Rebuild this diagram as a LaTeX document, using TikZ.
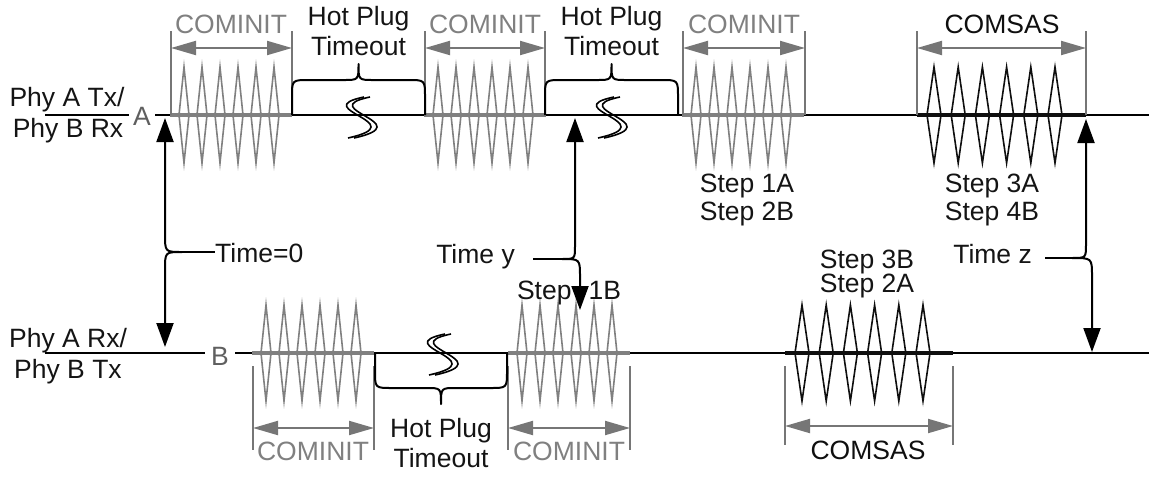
\documentclass[tikz,border=0pt]{standalone}
\usepackage{fontspec}
\setmainfont{Liberation Sans}
\usetikzlibrary{arrows.meta}
\definecolor{sigc}{RGB}{128,128,128}
\definecolor{dimc}{RGB}{118,118,118}
\definecolor{lblc}{RGB}{95,95,95}
\definecolor{txtc}{RGB}{20,20,20}
\definecolor{comsasc}{RGB}{15,15,15}
% burst: start x, line y, colour, first spike offset, pitch, half width, length
\newcommand{\mkburst}[7]{%
  \draw[line width=4pt,#3] (#1,#2) -- ++(#7,0);
  \foreach \k in {0,...,5}{%
    \draw[line width=1.6pt,#3,line join=miter,miter limit=20]
      ({#1+#4+#5*\k},{#2-48}) -- ++(#6,48) -- ++(-#6,48) -- ++(-#6,-48) -- cycle;
  }}
% dimension: x1, x2, y from, y to, y arrow
\newcommand{\mkdim}[5]{%
  \draw[dimline] (#1,#3) -- (#1,#4);
  \draw[dimline] (#2,#3) -- (#2,#4);
  \draw[dimarrow] (#1,#5) -- (#2,#5);}
% brace: x1, x2, line y, sign (1 = above, -1 = below)
\newcommand{\mkbrace}[4]{%
  \pgfmathsetmacro{\xm}{(#1+#2)/2}
  \draw[bracestyle] (#1,#3) -- (#1,{#3-#4*18}) .. controls (#1,{#3-#4*35}) .. ({#1+17},{#3-#4*35})
    -- ({\xm-15},{#3-#4*35}) .. controls (\xm,{#3-#4*35}) .. (\xm,{#3-#4*51})
    .. controls (\xm,{#3-#4*35}) .. ({\xm+15},{#3-#4*35})
    -- ({#2-17},{#3-#4*35}) .. controls (#2,{#3-#4*35}) .. (#2,{#3-#4*18}) -- (#2,#3);}
% break mark: centre x, centre y
\newcommand{\mkbreak}[2]{%
  \foreach \d in {0,6}{%
    \draw[line width=1.6pt,black] ({#1+3+\d},{#2-20}) .. controls ({#1-55+\d},{#2-8}) and ({#1+55+\d},{#2+6}) .. ({#1-13+\d},{#2+21});
  }}
\begin{document}
\begin{tikzpicture}[x=1pt,y=-1pt,
  lab/.style={font=\fontsize{26.5}{30}\selectfont, inner sep=0pt, anchor=base, text=txtc},
  glab/.style={lab, text=sigc},
  wire/.style={line width=2pt, black},
  bracestyle/.style={line width=2pt, black, line join=round},
  tarrow/.style={line width=2pt, black, {Triangle[length=24pt,width=17pt]}-{Triangle[length=24pt,width=17pt]}},
  tline/.style={line width=2pt, black},
  dimline/.style={line width=1.6pt, dimc},
  dimarrow/.style={line width=2pt, dimc, {Triangle[length=25pt,width=14pt]}-{Triangle[length=25pt,width=14pt]}},
  ]
\useasboundingbox (0,0) rectangle (1149,480);

% signal lines
\draw[wire] (45,115) -- (1149,115);
\draw[wire] (45,353) -- (1149,353);
\node[lab, text=lblc, fill=white, inner xsep=4pt] (A) at (142,125) {A};
\node[lab, text=lblc, fill=white, inner xsep=6pt] (B) at (220,365) {B};

\node[lab] (pat) at (67,106) {Phy A Tx/};
\node[lab] (pbr) at (68,137) {Phy B Rx};
\node[lab] (par) at (68,347) {Phy A Rx/};
\node[lab] (pbt) at (68,378) {Phy B Tx};

% top line bursts
\mkburst{170}{115}{sigc}{14}{18}{5}{122}
\mkburst{424}{115}{sigc}{14}{18}{5}{122}
\mkburst{682}{115}{sigc}{14}{18}{5}{122}
\mkburst{917}{115}{comsasc}{17}{24.2}{7}{169}
% bottom line bursts
\mkburst{252}{353}{sigc}{14}{18}{5}{122}
\mkburst{508}{353}{sigc}{14}{18}{5}{122}
\mkburst{785}{353}{comsasc}{17}{24.2}{7}{168}

% dimensions
\mkdim{171}{292}{31}{115}{48}
\mkdim{425}{545}{31}{115}{48}
\mkdim{683}{805}{31}{115}{48}
\mkdim{917}{1086}{31}{115}{48}
\mkdim{253}{374}{366}{450}{428}
\mkdim{508}{630}{366}{450}{428}
\mkdim{785}{953}{366}{445}{426}

\node[glab] (c1) at (231,33) {COMINIT};
\node[glab] (c2) at (485,33) {COMINIT};
\node[glab] (c3) at (744,33) {COMINIT};
\node[lab, text=comsasc] (s1) at (1002,33) {COMSAS};
\node[glab] (c4) at (313,460) {COMINIT};
\node[glab] (c5) at (569,460) {COMINIT};
\node[lab, text=comsasc] (s2) at (868,459) {COMSAS};

% hot plug braces
\mkbrace{292}{425}{115}{1}
\mkbrace{545}{678}{115}{1}
\mkbrace{375}{507}{353}{-1}
\mkbreak{361}{117}
\mkbreak{611}{117}
\mkbreak{442}{354}

\node[lab] (h1a) at (358.5,25) {Hot Plug};
\node[lab] (h1b) at (358.5,55) {Timeout};
\node[lab] (h2a) at (611.5,25) {Hot Plug};
\node[lab] (h2b) at (611.5,55) {Timeout};
\node[lab] (h3a) at (441,437) {Hot Plug};
\node[lab] (h3b) at (441,467) {Timeout};

% step labels
\node[lab] (st1a) at (747,192) {Step 1A};
\node[lab] (st2b) at (747,220) {Step 2B};
\node[lab] (st3a) at (992,192) {Step 3A};
\node[lab] (st4b) at (992,220) {Step 4B};
\node[lab] (st3b) at (867,268) {Step 3B};
\node[lab] (st2a) at (867,292) {Step 2A};
\node[lab] (st1b) at (569,299) {Step\hspace{17pt}1B};

% time markers
\node[lab, anchor=base west] (T0) at (215,262) {Time=0};
\node[lab, anchor=base east] (Ty) at (515,263) {Time y};
\node[lab, anchor=base east] (Tz) at (1032,263) {Time z};

\coordinate (t0top) at (165,118);
\coordinate (t0bot) at (165,347);
\coordinate (t0cusp) at (182,252);
\draw[tarrow] (t0top) -- (165,234) .. controls (165,252) .. (t0cusp) .. controls (165,252) .. (165,270) -- (t0bot);
\draw[tline] (t0cusp) -- (T0.west |- t0cusp);

\coordinate (tytop) at (575,118);
\coordinate (tybot) at (580,310);
\coordinate (tycusp) at (562,259);
\draw[tarrow] (tytop) -- (575,246) .. controls (575,259) .. (tycusp) .. controls (580,259) .. (580,277) -- (tybot);
\draw[tline] (tycusp) -- ([xshift=18pt]tycusp -| Ty.east);

\coordinate (tztop) at (1086,119);
\coordinate (tzbot) at (1092,352);
\coordinate (tzcusp) at (1072,258);
\draw[tarrow] (tztop) -- (1086,244) .. controls (1086,258) .. (tzcusp) .. controls (1092,258) .. (1092,276) -- (tzbot);
\draw[tline] (tzcusp) -- ([xshift=13pt]tzcusp -| Tz.east);
\end{tikzpicture}
\end{document}
